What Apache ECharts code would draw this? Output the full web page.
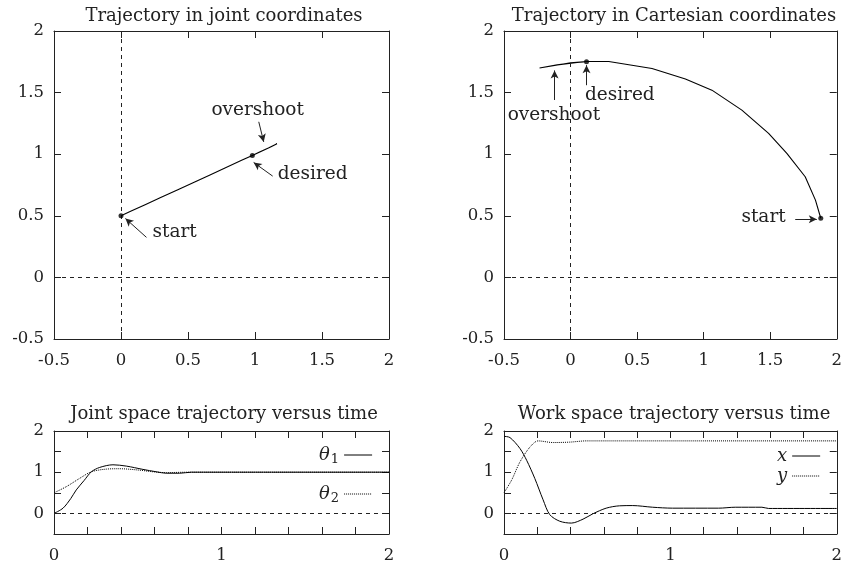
<!DOCTYPE html>
<html>
<head>
<meta charset="utf-8">
<script src="https://cdn.jsdelivr.net/npm/echarts@6/dist/echarts.min.js"></script>
<style>
  html, body { margin: 0; padding: 0; background: #fff; }
  #main { width: 845px; height: 567px; }
</style>
</head>
<body>
<div id="main"></div>
<script>
// joint space path (theta1, theta2)
var jointPath = [[0, 0.5], [0.08, 0.54], [0.18, 0.59], [0.3, 0.65], [0.42, 0.71], [0.55, 0.775],
  [0.66, 0.83], [0.78, 0.89], [0.9, 0.95], [0.98, 0.99], [1.06, 1.03], [1.12, 1.06], [1.164, 1.085],
  [1.1, 1.05], [1.03, 1.015], [0.98, 0.99]];
// cartesian path (x, y)
var cartPath = [[1.88, 0.48], [1.84, 0.627], [1.763, 0.817], [1.625, 1.006], [1.488, 1.169],
  [1.287, 1.358], [1.062, 1.52], [0.863, 1.61], [0.612, 1.696], [0.287, 1.753], [0.12, 1.753],
  [0, 1.742], [-0.12, 1.72], [-0.233, 1.70], [-0.1, 1.725], [0.05, 1.745], [0.12, 1.75]];
var jointMarks = [[0, 0.5], [0.98, 0.99]];
var cartMarks = [[1.88, 0.48], [0.12, 1.75]];
// time series
var theta1 = [[0, 0], [0.054, 0.127], [0.1, 0.36], [0.133, 0.57], [0.18, 0.8], [0.223, 1.01],
  [0.273, 1.116], [0.352, 1.18], [0.432, 1.148], [0.531, 1.068], [0.611, 1.01], [0.67, 0.975],
  [0.75, 0.975], [0.82, 1.0], [2, 1.0]];
var theta2 = [[0, 0.5], [0.074, 0.65], [0.153, 0.85], [0.223, 1.01], [0.312, 1.075], [0.392, 1.084],
  [0.51, 1.05], [0.59, 1.01], [0.67, 0.99], [0.8, 1.0], [2, 1.0]];
var workX = [[0, 1.87], [0.036, 1.84], [0.096, 1.575], [0.136, 1.29], [0.185, 0.85], [0.235, 0.33],
  [0.275, -0.03], [0.335, -0.19], [0.405, -0.235], [0.475, -0.14], [0.534, -0.01], [0.614, 0.127],
  [0.694, 0.184], [0.774, 0.19], [0.893, 0.15], [1.013, 0.127], [1.29, 0.127], [1.39, 0.15],
  [1.55, 0.15], [1.59, 0.12], [2, 0.12]];
var workY = [[0, 0.5], [0.046, 0.81], [0.096, 1.25], [0.156, 1.61], [0.205, 1.76], [0.295, 1.72],
  [0.395, 1.73], [0.494, 1.76], [2, 1.76]];

var FONT = 'DejaVu Serif';
var INK = '#222';

var grids = [
  { left: 54, top: 31, width: 335, height: 308 },
  { left: 504, top: 31, width: 334, height: 308 },
  { left: 54, top: 431, width: 335, height: 103 },
  { left: 504, top: 431, width: 334, height: 103 }
];

function intOnly(v) {
  return Math.abs(v - Math.round(v)) < 1e-6 ? String(Math.round(v)) : '';
}

// one axis, mirror=true for the top/right copy (ticks only)
function axis(gi, min, max, interval, pos, mirror, fmt) {
  var isX = pos === 'bottom' || pos === 'top';
  return {
    type: 'value', gridIndex: gi, min: min, max: max, interval: interval, position: pos,
    axisLine: { show: true, onZero: false, lineStyle: { color: INK, width: 1 } },
    axisTick: { show: true, inside: true, length: 7, lineStyle: { color: INK } },
    splitLine: { show: false },
    axisLabel: {
      show: !mirror, color: INK, fontFamily: FONT, fontSize: 16.5, margin: isX ? 13 : 10,
      formatter: fmt
    }
  };
}

var xAxes = [], yAxes = [];
[0, 1].forEach(function (g) {
  xAxes.push(axis(g, -0.5, 2, 0.5, 'bottom', false));
  xAxes.push(axis(g, -0.5, 2, 0.5, 'top', true));
  yAxes.push(axis(g, -0.5, 2, 0.5, 'left', false));
  yAxes.push(axis(g, -0.5, 2, 0.5, 'right', true));
});
[2, 3].forEach(function (g) {
  xAxes.push(axis(g, 0, 2, 0.2, 'bottom', false, intOnly));
  xAxes.push(axis(g, 0, 2, 0.2, 'top', true));
  yAxes.push(axis(g, -0.5, 2, 0.5, 'left', false, intOnly));
  yAxes.push(axis(g, -0.5, 2, 0.5, 'right', true));
});

var dashed = { color: INK, type: [4, 4], width: 1 };

function zeroLines(gi, both) {
  var d = [{ yAxis: 0 }];
  if (both) d.push({ xAxis: 0 });
  return {
    type: 'line', xAxisIndex: gi * 2, yAxisIndex: gi * 2, data: [], silent: true,
    markLine: { silent: true, symbol: 'none', label: { show: false }, lineStyle: dashed, data: d }
  };
}

function arrows(gi, list) {
  return {
    type: 'line', xAxisIndex: gi * 2, yAxisIndex: gi * 2, data: [], silent: true,
    markLine: {
      silent: true, symbol: ['none', 'arrow'], symbolSize: [6, 8], label: { show: false },
      lineStyle: { color: INK, type: 'solid', width: 1 },
      data: list.map(function (a) { return [{ coord: a[0] }, { coord: a[1] }]; })
    },
    markPoint: {
      silent: true, symbol: 'circle', symbolSize: 0,
      data: list.map(function (a) {
        return {
          coord: a[2], value: a[3],
          label: { show: true, formatter: a[3], color: INK, fontFamily: FONT, fontSize: 18.5, position: 'inside' }
        };
      })
    }
  };
}

function path(gi, data) {
  return {
    type: 'line', xAxisIndex: gi * 2, yAxisIndex: gi * 2, data: data, silent: true,
    symbol: 'none', lineStyle: { color: '#000', width: 1.1 }
  };
}

function dots(gi, data) {
  return {
    type: 'scatter', xAxisIndex: gi * 2, yAxisIndex: gi * 2, data: data, silent: true,
    symbolSize: 5, itemStyle: { color: '#000' }, z: 5
  };
}

function timeLine(gi, name, data, type) {
  return {
    name: name, type: 'line', xAxisIndex: gi * 2, yAxisIndex: gi * 2, data: data,
    symbol: 'none', smooth: 0.3, silent: true, color: 'rgba(0,0,0,0)',
    lineStyle: { color: '#000', width: 1, type: type }
  };
}

var titleStyle = { color: INK, fontFamily: FONT, fontSize: 18, fontWeight: 'normal' };

var option = {
  animation: false,
  backgroundColor: '#fff',
  title: [
    { text: 'Trajectory in joint coordinates', left: 219, top: 2, textAlign: 'center', textStyle: titleStyle },
    { text: 'Trajectory in Cartesian coordinates', left: 669, top: 2, textAlign: 'center', textStyle: titleStyle },
    { text: 'Joint space trajectory versus time', left: 219, top: 400, textAlign: 'center', textStyle: titleStyle },
    { text: 'Work space trajectory versus time', left: 669, top: 400, textAlign: 'center', textStyle: titleStyle }
  ],
  grid: grids,
  xAxis: xAxes,
  yAxis: yAxes,
  legend: [
    {
      data: ['theta1', 'theta2'], left: 314, top: 441, orient: 'vertical', align: 'right',
      itemWidth: 28, itemHeight: 14, itemGap: 19, selectedMode: false,
      itemStyle: { opacity: 0 }, lineStyle: { width: 1 },
      formatter: function (n) { return '{t|θ}{s|' + n.slice(-1) + '}'; },
      textStyle: {
        color: INK, fontFamily: FONT,
        rich: {
          t: { fontSize: 18, fontStyle: 'italic', fontFamily: FONT, color: INK },
          s: { fontSize: 13, fontFamily: FONT, color: INK, padding: [9, 0, 0, 1] }
        }
      }
    },
    {
      data: ['x', 'y'], left: 772, top: 442, orient: 'vertical', align: 'right',
      itemWidth: 28, itemHeight: 12, itemGap: 2, selectedMode: false,
      itemStyle: { opacity: 0 }, lineStyle: { width: 1 },
      textStyle: { color: INK, fontFamily: FONT, fontSize: 18, fontStyle: 'italic', lineHeight: 12 }
    }
  ],
  series: [
    zeroLines(0, true),
    zeroLines(1, true),
    zeroLines(2, false),
    zeroLines(3, false),
    path(0, jointPath),
    dots(0, jointMarks),
    arrows(0, [
      [[0.19, 0.325], [0.033, 0.478], [0.4, 0.37], 'start'],
      [[1.132, 0.822], [0.99, 0.933], [1.43, 0.84], 'desired'],
      [[1.028, 1.263], [1.065, 1.10], [1.02, 1.36], 'overshoot']
    ]),
    path(1, cartPath),
    dots(1, cartMarks),
    arrows(1, [
      [[0.12, 1.56], [0.12, 1.723], [0.37, 1.48], 'desired'],
      [[-0.12, 1.44], [-0.12, 1.68], [-0.125, 1.317], 'overshoot'],
      [[1.688, 0.473], [1.85, 0.473], [1.45, 0.49], 'start']
    ]),
    timeLine(2, 'theta1', theta1, 'solid'),
    timeLine(2, 'theta2', theta2, 'dotted'),
    timeLine(3, 'x', workX, 'solid'),
    timeLine(3, 'y', workY, 'dotted')
  ]
};

var chart = echarts.init(document.getElementById('main'), null, { renderer: 'canvas' });
chart.setOption(option);
</script>
</body>
</html>
